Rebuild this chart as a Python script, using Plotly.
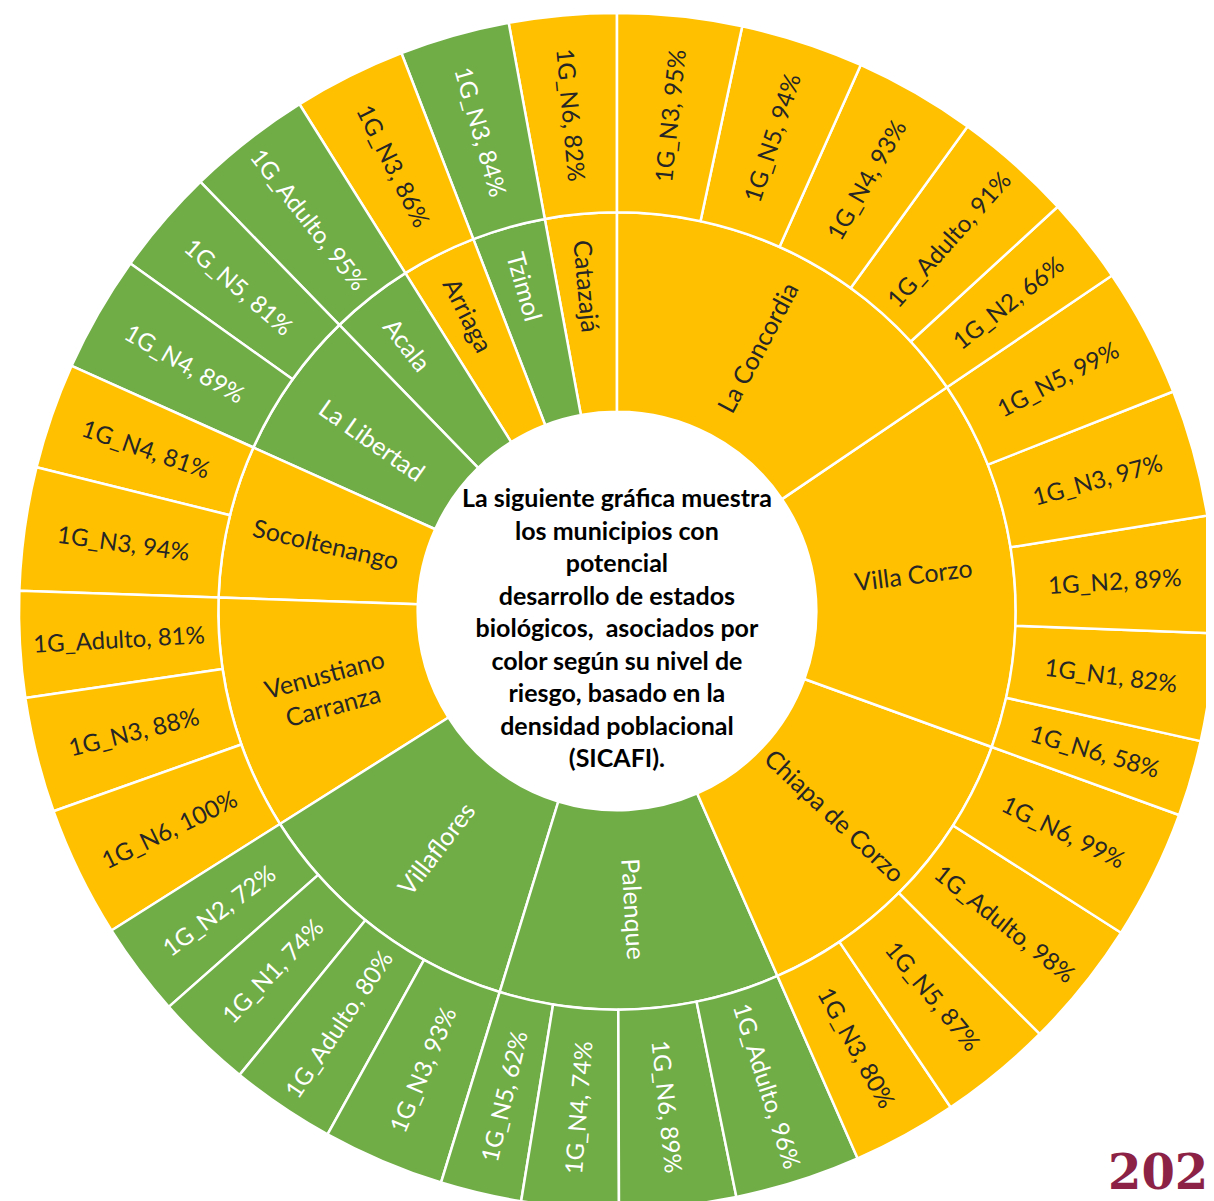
import math
import plotly.graph_objects as go

# ---- data ----
municipios = ["La Concordia", "Villa Corzo", "Chiapa de Corzo", "Palenque", "Villaflores",
              "Venustiano Carranza", "Socoltenango", "La Libertad", "Acala", "Arriaga",
              "Tzimol", "Catazajá"]
municipio_label = ["La Concordia", "Villa Corzo", "Chiapa de Corzo", "Palenque", "Villaflores",
                   "Venustiano<br>Carranza", "Socoltenango", "La Libertad", "Acala", "Arriaga",
                   "Tzimol", "Catazajá"]
riesgo = ["alto", "alto", "alto", "bajo", "bajo", "alto", "alto", "bajo", "bajo", "alto",
          "bajo", "alto"]

leaf_municipio = (["La Concordia"] * 5 + ["Villa Corzo"] * 5 + ["Chiapa de Corzo"] * 4 +
                  ["Palenque"] * 4 + ["Villaflores"] * 4 + ["Venustiano Carranza"] * 3 +
                  ["Socoltenango"] * 2 + ["La Libertad"] * 2 + ["Acala", "Arriaga", "Tzimol", "Catazajá"])
leaf_estadio = ["1G_N3", "1G_N5", "1G_N4", "1G_Adulto", "1G_N2",
                "1G_N5", "1G_N3", "1G_N2", "1G_N1", "1G_N6",
                "1G_N6", "1G_Adulto", "1G_N5", "1G_N3",
                "1G_Adulto", "1G_N6", "1G_N4", "1G_N5",
                "1G_N3", "1G_Adulto", "1G_N1", "1G_N2",
                "1G_N6", "1G_N3", "1G_Adulto",
                "1G_N3", "1G_N4",
                "1G_N4", "1G_N5",
                "1G_Adulto", "1G_N3", "1G_N3", "1G_N6"]
leaf_pct = [95, 94, 93, 91, 66,
            99, 97, 89, 82, 58,
            99, 98, 87, 80,
            96, 89, 74, 62,
            93, 80, 74, 72,
            100, 88, 81,
            94, 81,
            89, 81,
            95, 86, 84, 82]

center_text = ("La siguiente gráfica muestra<br>los municipios con<br>potencial<br>"
               "desarrollo de estados<br>biológicos,  asociados por<br>color según su nivel de<br>"
               "riesgo, basado en la<br>densidad poblacional<br>(SICAFI).")
logo_text = "202"

# ---- styling / geometry ----
W, H = 1214, 1201
ML, MR, MT, MB = 11, 7, 5, 0
R = min(W - ML - MR, H - MT - MB) / 2.0
CX, CY = ML + R, MT + R
FONT = "Lato"
color_map = {"alto": "#FFC000", "bajo": "#70AD47"}
text_map = {"alto": "#262626", "bajo": "#FFFFFF"}
riesgo_de = dict(zip(municipios, riesgo))
total = sum(leaf_pct)

ids, labels, parents, values, colors, texts, tcolors, tsizes = [], [], [], [], [], [], [], []
ids.append("root"); labels.append(""); parents.append(""); values.append(total)
colors.append("#FFFFFF"); texts.append(""); tcolors.append("#FFFFFF"); tsizes.append(24)

extra_labels = []  # labels of sectors crossing 3/9 o'clock, drawn at their mid-angle


def crossing_label(start_val, value, ring_mid, text, color, size):
    """Return (text, annotation-or-None) for a sector; plotly pushes radial text of
    sectors that straddle the horizontal axis off their mid-angle, so those are placed here."""
    a0 = 90 - start_val / total * 360
    a1 = 90 - (start_val + value) / total * 360
    crosses = (a1 < 0 < a0) or (a1 < -180 < a0)
    if not crosses:
        return text, None
    mid = (a0 + a1) / 2
    px = CX + ring_mid * math.cos(math.radians(mid))
    py = CY - ring_mid * math.sin(math.radians(mid))
    m = ((mid + 90) % 180) - 90
    ann = dict(x=(px - ML) / (2 * R), y=1 - (py - MT) / (2 * R), xref="paper", yref="paper",
               text=text, showarrow=False, xanchor="center", yanchor="middle",
               textangle=-m, font=dict(family=FONT, size=size, color=color))
    return "", ann


# plotly lays sectors out counter-clockwise; the reference runs clockwise from 12 o'clock,
# so nodes are fed in reverse order (angles below are computed clockwise)
mun_nodes, leaf_nodes = [], []
cum = 0
for m, ml in zip(municipios, municipio_label):
    v = sum(p for mm, p in zip(leaf_municipio, leaf_pct) if mm == m)
    col = text_map[riesgo_de[m]]
    t, ann = crossing_label(cum, v, R * 0.5, ml, col, 25)
    if ann:
        extra_labels.append(ann)
    mun_nodes.append((m, m, "root", v, color_map[riesgo_de[m]], t, col, 25))
    cum += v

cum = 0
for m, e, p in zip(leaf_municipio, leaf_estadio, leaf_pct):
    col = text_map[riesgo_de[m]]
    lab = f"{e}, {p}%"
    t, ann = crossing_label(cum, p, R * 5 / 6, lab, col, 24)
    if ann:
        extra_labels.append(ann)
    leaf_nodes.append((m + "/" + e, lab, m, p, color_map[riesgo_de[m]], t, col, 24))
    cum += p

for node in list(reversed(mun_nodes)) + list(reversed(leaf_nodes)):
    i_, l_, p_, v_, c_, t_, tc_, ts_ = node
    ids.append(i_); labels.append(l_); parents.append(p_); values.append(v_)
    colors.append(c_); texts.append(t_); tcolors.append(tc_); tsizes.append(ts_)

fig = go.Figure(go.Sunburst(
    ids=ids, labels=labels, parents=parents, values=values,
    branchvalues="total", sort=False, rotation=90,
    text=texts, textinfo="text",
    insidetextorientation="radial",
    textfont=dict(family=FONT, size=tsizes, color=tcolors),
    marker=dict(colors=colors, line=dict(color="#FFFFFF", width=2.5)),
    leaf=dict(opacity=1),
    hoverinfo="label+value",
))

for ann in extra_labels:
    fig.add_annotation(**ann)

fig.add_annotation(
    x=0.5, y=0.4866, xref="paper", yref="paper",
    text=center_text, showarrow=False, xanchor="center", yanchor="middle",
    font=dict(family=FONT, size=25, color="#000000", weight="bold"), align="center",
)

fig.add_annotation(
    x=(1098 - ML) / (2 * R), y=0.006, xref="paper", yref="paper",
    text=logo_text, showarrow=False, xanchor="left", yanchor="bottom",
    font=dict(family="DejaVu Serif", size=48, color="#8C2347", weight="bold"),
)

fig.update_layout(
    width=W, height=H,
    margin=dict(l=ML, r=MR, t=MT, b=MB),
    paper_bgcolor="#FFFFFF",
    showlegend=False,
)

fig.write_html("out.html")
